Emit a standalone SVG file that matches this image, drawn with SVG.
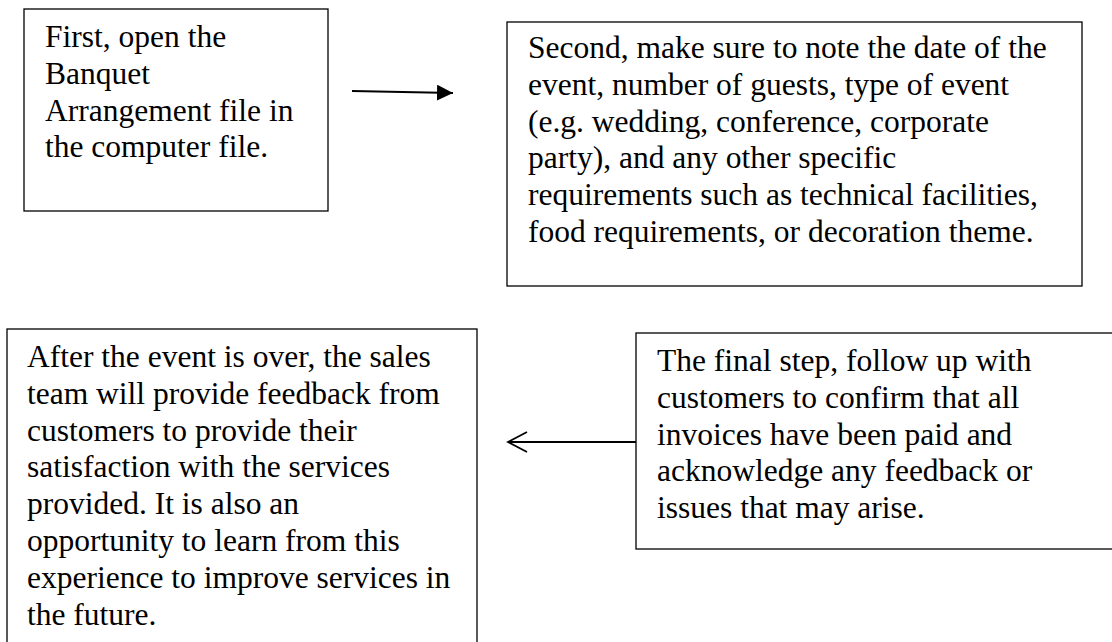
<svg xmlns="http://www.w3.org/2000/svg" width="1112" height="642" viewBox="0 0 1112 642">
  <style>
    .box { fill: #ffffff; stroke: #000000; stroke-width: 1.3; }
    .txt { font-family: "Liberation Serif", "Times New Roman", serif; font-size: 31.5px; fill: #000000; }
    .conn { stroke: #000000; stroke-width: 2; fill: none; }
  </style>
  <defs>
    <marker id="solidHead" markerUnits="userSpaceOnUse" markerWidth="18" markerHeight="18" refX="16" refY="8" orient="auto">
      <path d="M0,0 L16,8 L0,16 Z" fill="#000000"/>
    </marker>
    <marker id="openHead" markerUnits="userSpaceOnUse" markerWidth="24" markerHeight="24" refX="20" refY="11" orient="auto">
      <path d="M1,1 L20,11 L1,21" fill="none" stroke="#000000" stroke-width="1.8"/>
    </marker>
  </defs>
  <rect width="1112" height="642" fill="#ffffff"/>

  <g id="node-first">
    <rect class="box" x="24" y="9" width="304" height="202"/>
    <text class="txt" x="45" y="47">
      <tspan x="45">First, open the</tspan>
      <tspan x="45" dy="36.8">Banquet</tspan>
      <tspan x="45" dy="36.8">Arrangement file in</tspan>
      <tspan x="45" dy="36.8">the computer file.</tspan>
    </text>
  </g>

  <g id="node-second">
    <rect class="box" x="507" y="22" width="575" height="264"/>
    <text class="txt" x="528" y="58">
      <tspan x="528">Second, make sure to note the date of the</tspan>
      <tspan x="528" dy="36.8">event, number of guests, type of event</tspan>
      <tspan x="528" dy="36.8">(e.g. wedding, conference, corporate</tspan>
      <tspan x="528" dy="36.8">party), and any other specific</tspan>
      <tspan x="528" dy="36.8">requirements such as technical facilities,</tspan>
      <tspan x="528" dy="36.8">food requirements, or decoration theme.</tspan>
    </text>
  </g>

  <g id="node-after">
    <rect class="box" x="7" y="329" width="470" height="330"/>
    <text class="txt" x="27" y="367">
      <tspan x="27">After the event is over, the sales</tspan>
      <tspan x="27" dy="36.8">team will provide feedback from</tspan>
      <tspan x="27" dy="36.8">customers to provide their</tspan>
      <tspan x="27" dy="36.8">satisfaction with the services</tspan>
      <tspan x="27" dy="36.8">provided. It is also an</tspan>
      <tspan x="27" dy="36.8">opportunity to learn from this</tspan>
      <tspan x="27" dy="36.8">experience to improve services in</tspan>
      <tspan x="27" dy="36.8">the future.</tspan>
    </text>
  </g>

  <g id="node-final">
    <rect class="box" x="636" y="333" width="490" height="216"/>
    <text class="txt" x="657" y="371">
      <tspan x="657">The final step, follow up with</tspan>
      <tspan x="657" dy="36.8">customers to confirm that all</tspan>
      <tspan x="657" dy="36.8">invoices have been paid and</tspan>
      <tspan x="657" dy="36.8">acknowledge any feedback or</tspan>
      <tspan x="657" dy="36.8">issues that may arise.</tspan>
    </text>
  </g>

  <g id="connectors">
    <line class="conn" x1="352" y1="91" x2="453" y2="93" marker-end="url(#solidHead)"/>
    <line class="conn" x1="636" y1="442" x2="508" y2="442" stroke-width="1.8" marker-end="url(#openHead)"/>
  </g>
</svg>
